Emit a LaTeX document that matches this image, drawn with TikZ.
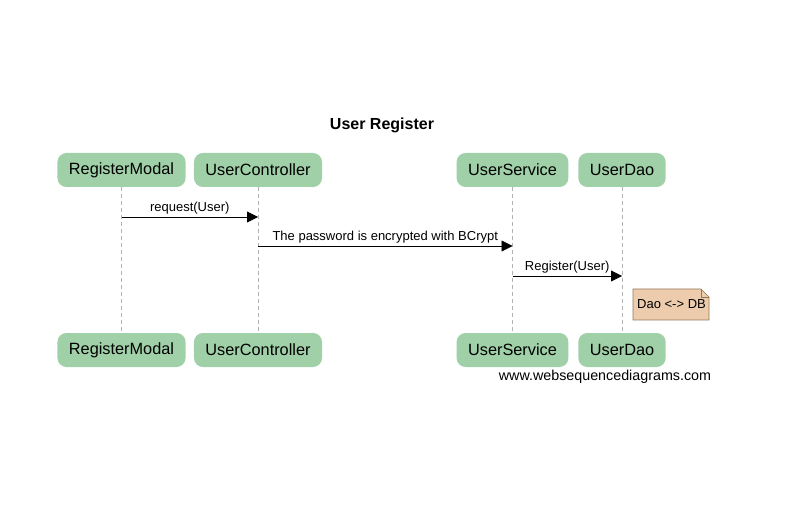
\documentclass[tikz,border=0pt]{standalone}
\usepackage{fontspec}
\setmainfont{Liberation Sans}
\usetikzlibrary{arrows.meta,shapes.misc}
\definecolor{actfill}{RGB}{160,208,168}
\definecolor{notefill}{RGB}{236,204,172}
\definecolor{notedraw}{RGB}{150,120,90}
\tikzset{
  actor/.style={fill=actfill, rounded corners=9pt, minimum height=34pt, inner xsep=11.5pt, font=\fontsize{16.3}{18}\selectfont, text=black},
  life/.style={draw=black!30, dashed, dash pattern=on 4pt off 3pt, line width=0.6pt},
  msg/.style={draw=black, line width=0.8pt, -{Triangle[length=11pt,width=11pt]}},
  lbl/.style={font=\fontsize{13}{15}\selectfont, inner sep=1pt},
}
\begin{document}
\begin{tikzpicture}[x=1pt,y=-1pt]
\useasboundingbox (0,0) rectangle (785,513);
\fill[white] (0,0) rectangle (785,513);
\node[font=\bfseries\fontsize{16}{18}\selectfont] (title) at (382,125.5) {User Register};
% top actors
\node[actor] (rmT) at (121.5,170) {RegisterModal};
\node[actor] (ucT) at (258,170) {UserController};
\node[actor] (usT) at (512.5,170) {UserService};
\node[actor] (udT) at (622,170) {UserDao};
% bottom actors
\node[actor] (rmB) at (121.5,350) {RegisterModal};
\node[actor] (ucB) at (258,350) {UserController};
\node[actor] (usB) at (512.5,350) {UserService};
\node[actor] (udB) at (622,350) {UserDao};
% lifelines
\draw[life] (rmT.south) -- (rmB.north);
\draw[life] (ucT.south) -- (ucB.north);
\draw[life] (usT.south) -- (usB.north);
\draw[life] (udT.south) -- (udB.north);
% message anchors
\coordinate (m1a) at (121.5,217); \coordinate (m1b) at (258,217);
\coordinate (m2a) at (258,246); \coordinate (m2b) at (512.5,246);
\coordinate (m3a) at (512.5,276); \coordinate (m3b) at (622,276);
\draw[msg] (m1a) -- (m1b) node[lbl, midway, above=1pt] (l1) {request(User)};
\draw[msg] (m2a) -- (m2b) node[lbl, midway, above=1pt] (l2) {The password is encrypted with BCrypt};
\draw[msg] (m3a) -- (m3b) node[lbl, midway, above=1pt] (l3) {Register(User)};
% note
\draw[fill=notefill, draw=notedraw, line width=0.6pt] (633,289) -- (701,289) -- (709,297) -- (709,320) -- (633,320) -- cycle;
\draw[draw=notedraw, line width=0.6pt] (701,289) -- (701,297) -- (709,297);
\node[lbl] (note) at (671.5,304.5) {Dao <-> DB};
% footer
\node[font=\fontsize{14.3}{16}\selectfont] (foot) at (605,377) {www.websequencediagrams.com};
\end{tikzpicture}
\end{document}
